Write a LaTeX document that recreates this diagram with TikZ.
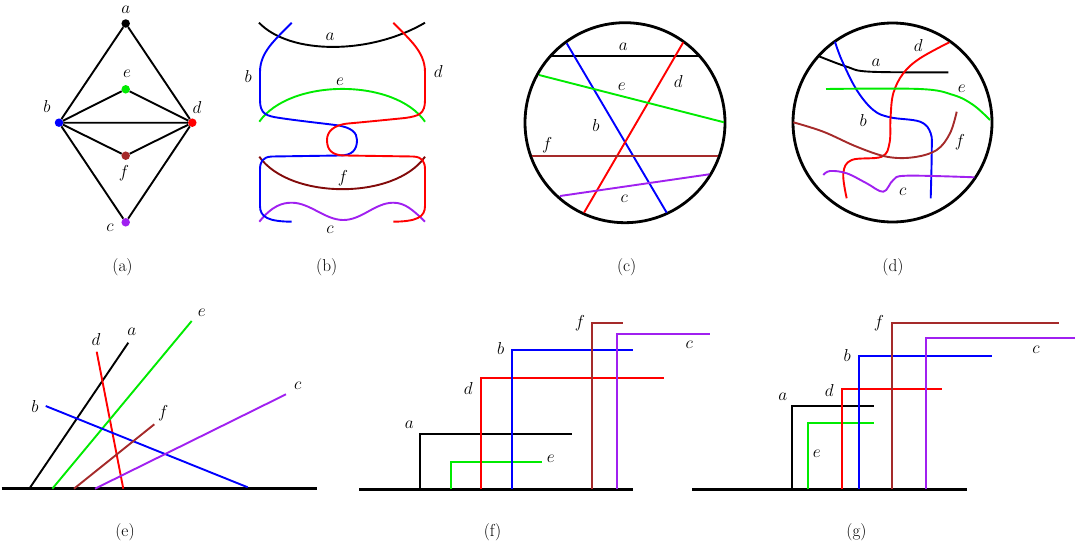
\documentclass[tikz,border=0pt]{standalone}
\definecolor{cgreen}{RGB}{0,235,0}
\definecolor{cblue}{RGB}{0,0,255}
\definecolor{cred}{RGB}{255,0,0}
\definecolor{cbrown}{RGB}{165,42,42}
\definecolor{cdbrown}{RGB}{130,10,10}
\definecolor{cpurple}{RGB}{160,32,240}
\begin{document}
\begin{tikzpicture}[x=1pt,y=-1pt,
  ln/.style={line width=1.9pt},
  heavy/.style={line width=2.8pt},
  lbl/.style={inner sep=0pt, font=\fontsize{17.28}{20}\selectfont},
  captxt/.style={inner sep=0pt, font=\fontsize{17.28}{20}\selectfont},
  dotn/.style={circle, fill=#1, inner sep=0pt, minimum size=8.5pt}]
\useasboundingbox (0,0) rectangle (1077,546);

% ---------------- (a) graph
\node[dotn=black]   (a) at (125.7,23.5) {};
\node[dotn=cgreen]  (e) at (125.7,89.3) {};
\node[dotn=cblue]   (b) at (59,122.7) {};
\node[dotn=cred]    (d) at (192.3,122.7) {};
\node[dotn=cbrown]  (f) at (125.7,155.7) {};
\node[dotn=cpurple] (c) at (125.7,222.3) {};
\draw[ln] (a) -- (b) (a) -- (d) (b) -- (e) (e) -- (d) (b) -- (d)
          (b) -- (f) (f) -- (d) (b) -- (c) (c) -- (d);
\node[lbl] (la) at (125.7,9.5) {$a$};
\node[lbl] (le) at (127,74) {$e$};
\node[lbl] (lb) at (47,106) {$b$};
\node[lbl] (ld) at (197,107) {$d$};
\node[lbl] (lf) at (124,173) {$f$};
\node[lbl] (lc) at (110,228) {$c$};
\node[captxt] (capa) at (122.5,267) {(a)};

% ---------------- (b)
\draw[ln] (259,22.7) .. controls (290,55) and (370,55) .. (425,22.7);
\draw[ln,cgreen] (259.3,121.7) .. controls (290,78) and (395,78) .. (425,121.7);
\draw[ln,cdbrown] (259.3,156.7) .. controls (290,200) and (395,200) .. (425,156.7);
\draw[ln,cpurple] (259.3,221.7) .. controls (272,206) and (282,202.7) .. (291.7,202.7)
   .. controls (310,202.7) and (325,220) .. (343.3,220)
   .. controls (362,220) and (375,202.7) .. (393.3,202.7)
   .. controls (405,202.7) and (413,210) .. (425,221.7);
\draw[ln,cblue] (291.7,22.7) .. controls (275,40) and (260,52) .. (260,72) -- (260,100)
   .. controls (260,114) and (266,116) .. (280,118)
   .. controls (300,121) and (320,123) .. (335,125)
   .. controls (352,127) and (357,133) .. (357,140)
   .. controls (357,150) and (352,155.5) .. (340,155.5) -- (272,156.5)
   .. controls (262,157) and (260,162) .. (260,170) -- (260,206)
   .. controls (260,217) and (268,221.5) .. (291.7,221.7);
\draw[ln,cred] (393.3,22.7) .. controls (410,40) and (425,52) .. (425,72) -- (425,100)
   .. controls (425,114) and (419,116) .. (405,118)
   .. controls (385,120) and (365,122) .. (348,123.5)
   .. controls (333,125) and (327,132) .. (327,140)
   .. controls (327,150) and (332,155.5) .. (345,155.5) -- (413,156.5)
   .. controls (423,157) and (425,162) .. (425,170) -- (425,206)
   .. controls (425,217) and (417,221.5) .. (393.3,221.7);
\node[lbl] (lba) at (330,36.7) {$a$};
\node[lbl] (lbe) at (340,81.7) {$e$};
\node[lbl] (lbb) at (248.3,76.7) {$b$};
\node[lbl] (lbd) at (438.3,71.7) {$d$};
\node[lbl] (lbf) at (343,178) {$f$};
\node[lbl] (lbc) at (330,230) {$c$};
\node[captxt] (capb) at (326.7,267) {(b)};

% ---------------- (c)
\node[draw, heavy, circle, minimum size=200pt, inner sep=0pt] (circc) at (625,122.7) {};
\draw[ln] (550.5,56) -- (699.5,56);
\draw[ln,cblue] (566.7,43.3) -- (666.7,212.7);
\draw[ln,cred] (683.3,42.3) -- (584,212.7);
\draw[ln,cgreen] (539,75) -- (724,122.3);
\draw[ln,cbrown] (531.7,155.7) -- (718.3,155.7);
\draw[ln,cpurple] (560,196) -- (709.3,174.3);
\node[lbl] (lca) at (623.3,46.7) {$a$};
\node[lbl] (lcb) at (596,125) {$b$};
\node[lbl] (lcd) at (678.3,81) {$d$};
\node[lbl] (lce) at (621.7,86.7) {$e$};
\node[lbl] (lcf) at (547.3,145) {$f$};
\node[lbl] (lcc) at (624.3,198.3) {$c$};
\node[captxt] (capc) at (626.7,267) {(c)};

% ---------------- (d)
\node[draw, heavy, circle, minimum size=199pt, inner sep=0pt] (circd) at (892.5,122.5) {};
\draw[ln] plot[smooth, tension=0.6] coordinates {(818.3,56) (846.7,66.7) (870,71.7) (948.3,72.3)};
\draw[ln,cblue] plot[smooth, tension=0.6] coordinates {(835,41.7) (841.7,60) (856.7,90) (873.3,110) (890,117.3) (920,121.7) (930.7,133.3) (931.7,153.3) (930.7,198.3)};
\draw[ln,cred] plot[smooth, tension=0.6] coordinates {(949.3,42.3) (920,58.3) (903.3,73.3) (893.3,93.3) (890.5,118) (889.5,143) (881.7,156.7) (851.7,160) (843.3,173.3) (846.7,198.3)};
\draw[ln,cgreen] plot[smooth, tension=0.6] coordinates {(826,89) (920,89) (953.3,95) (973.3,105) (990,120)};
\draw[ln,cbrown] plot[smooth, tension=0.6] coordinates {(793.3,122.3) (823.3,131.7) (856.7,146.7) (886.7,156.7) (913.3,157.3) (936.7,150) (950,133.3) (956.7,111.7)};
\draw[ln,cpurple] plot[smooth, tension=0.6] coordinates {(823.3,175) (830,171) (846.7,173.3) (866.7,183.3) (883.3,191.7) (893.3,180) (906.7,175.7) (974.3,177.3)};
\node[lbl] (lda) at (876,62.7) {$a$};
\node[lbl] (ldb) at (863.3,120) {$b$};
\node[lbl] (ldd) at (918.3,45) {$d$};
\node[lbl] (lde) at (961.7,89) {$e$};
\node[lbl] (ldf) at (960,141.7) {$f$};
\node[lbl] (ldc) at (902.7,191.7) {$c$};
\node[captxt] (capd) at (893,267) {(d)};

% ---------------- (e)
\draw[heavy] (1.7,488.7) -- (316.7,488.7);
\draw[ln] (29.3,488.7) -- (128.3,342.7);
\draw[ln,cred] (96.7,351.7) -- (123.3,488.7);
\draw[ln,cgreen] (52.3,488.7) -- (191.7,321);
\draw[ln,cblue] (45.7,406) -- (247.7,487.3);
\draw[ln,cbrown] (74,488.7) -- (154.3,424.3);
\draw[ln,cpurple] (95,488.7) -- (286,394.3);
\node[lbl] (lea) at (131.7,331.7) {$a$};
\node[lbl] (led) at (96,339) {$d$};
\node[lbl] (lee) at (201.7,312.3) {$e$};
\node[lbl] (leb) at (35,406.7) {$b$};
\node[lbl] (lef) at (163.3,413.3) {$f$};
\node[lbl] (lec) at (297.7,386) {$c$};
\node[captxt] (cape) at (125,532) {(e)};

% ---------------- (f)
\draw[heavy] (359.3,489.3) -- (633.3,489.3);
\draw[ln] (420,489.3) |- (572.3,434);
\draw[ln,cgreen] (450.7,489.3) |- (541.7,461.7);
\draw[ln,cred] (481,489.3) |- (664,378.3);
\draw[ln,cblue] (511.7,489.3) |- (633.3,350.3);
\draw[ln,cbrown] (591.7,489.3) |- (622.7,322.7);
\draw[ln,cpurple] (617.3,489.3) |- (710,334.3);
\node[lbl] (lfa) at (409.3,425) {$a$};
\node[lbl] (lfe) at (550.7,458.3) {$e$};
\node[lbl] (lfd) at (468.3,388.3) {$d$};
\node[lbl] (lfb) at (500.7,348.3) {$b$};
\node[lbl] (lff) at (580,323.3) {$f$};
\node[lbl] (lfc) at (689.3,345) {$c$};
\node[captxt] (capf) at (492.5,532) {(f)};

% ---------------- (g)
\draw[heavy] (692.3,489.3) -- (966.7,489.3);
\draw[ln] (792.3,489.3) |- (874.3,406);
\draw[ln,cgreen] (808.3,489.3) |- (874.3,422.7);
\draw[ln,cred] (841.7,489.3) |- (941.7,389.3);
\draw[ln,cblue] (859,489.3) |- (991.7,356);
\draw[ln,cbrown] (892.3,489.3) |- (1059,322.7);
\draw[ln,cpurple] (925.7,489.3) |- (1075,338.3);
\node[lbl] (lga) at (782.7,396.7) {$a$};
\node[lbl] (lge) at (816.7,454) {$e$};
\node[lbl] (lgd) at (829.3,390) {$d$};
\node[lbl] (lgb) at (847.3,355) {$b$};
\node[lbl] (lgf) at (879,323.3) {$f$};
\node[lbl] (lgc) at (1036,349.3) {$c$};
\node[captxt] (capg) at (856.5,532) {(g)};
\end{tikzpicture}
\end{document}
